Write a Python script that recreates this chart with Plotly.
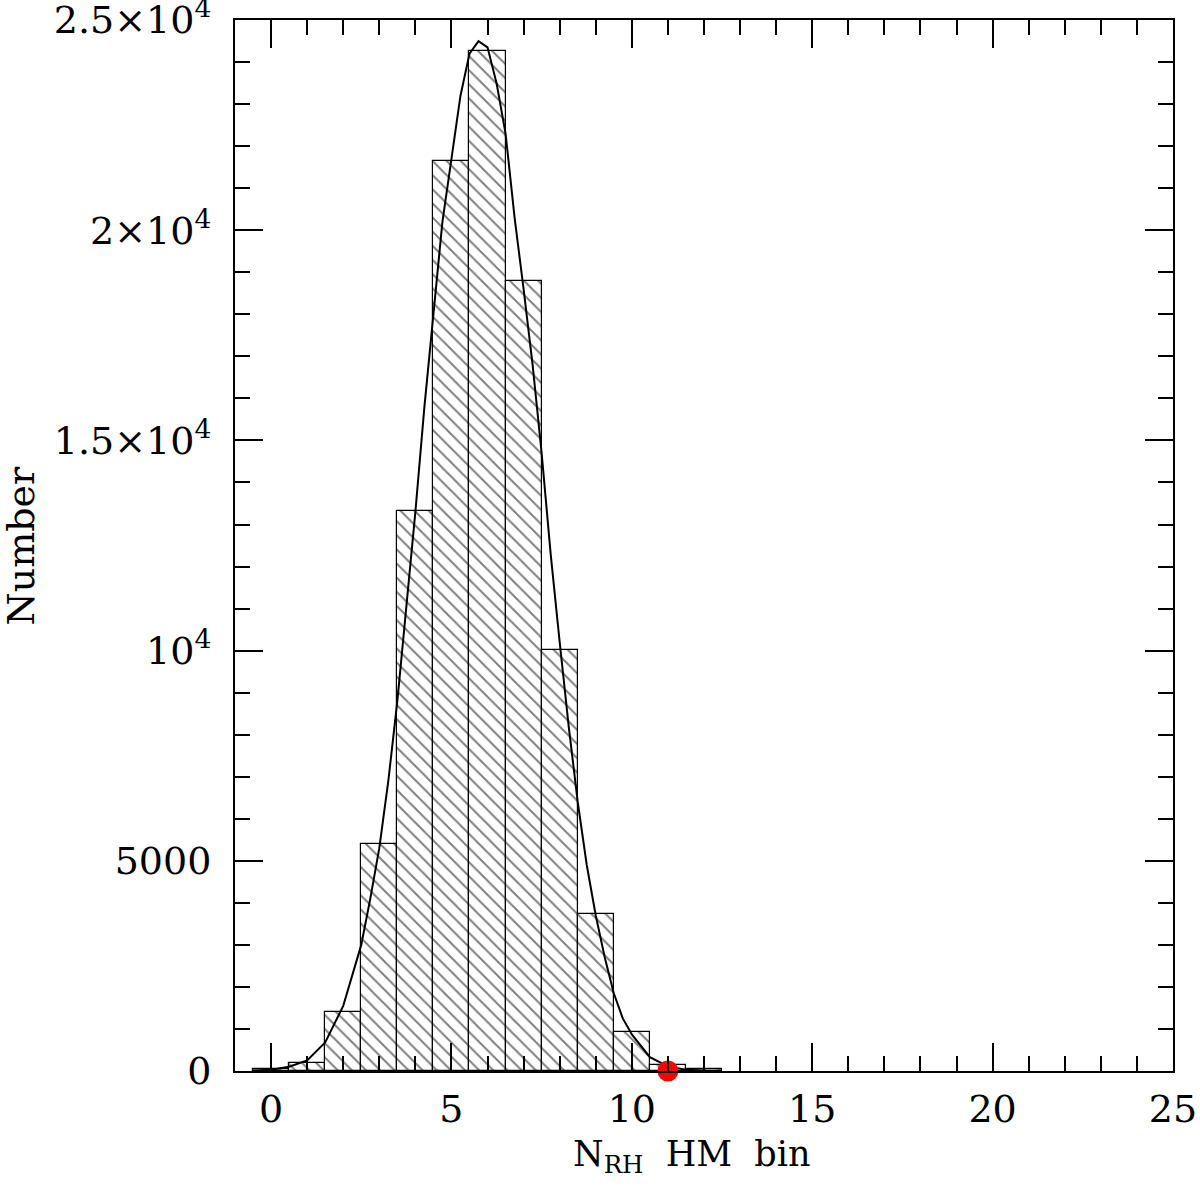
import plotly.graph_objects as go

# histogram of N_RH half-mass bin (bins centred on integers, width 1)
bin_centres = [0, 1, 2, 3, 4, 5, 6, 7, 8, 9, 10, 11, 12]
bin_counts = [50, 200, 1400, 5400, 13330, 21640, 24270, 18800, 10020, 3740, 930, 140, 40]

# fitted curve
curve_x = [-0.5, 0.0, 0.5, 1.0, 1.5, 2.0, 2.5, 2.75, 3.0, 3.25, 3.5, 3.75,
           4.0, 4.25, 4.5, 4.75, 5.0, 5.25, 5.5, 5.75, 6.0, 6.25, 6.5, 6.75,
           7.0, 7.25, 7.5, 7.75, 8.0, 8.25, 8.5, 8.75, 9.0, 9.25, 9.5, 9.75,
           10.0, 10.5, 11.0, 11.5, 12.0, 12.5]
curve_y = [10, 30, 100, 250, 680, 1550, 3000, 4100, 5300, 6900, 8800, 11000,
           13300, 15800, 18000, 20200, 21700, 23200, 24200, 24500, 24350, 23500, 22300, 20300,
           18600, 16800, 14700, 12300, 10200, 8200, 6400, 4900, 3700, 2700, 1850, 1250,
           870, 330, 110, 30, 10, 3]

# observed value
obs_x = [11.0]
obs_y = [0]

x_tick_vals = [0, 5, 10, 15, 20, 25]
x_tick_text = ["0", "5", "10", "15", "20", "25"]
y_tick_vals = [0, 5000, 10000, 15000, 20000, 25000]
y_tick_text = ["0", "5000", "10<sup>4</sup>", "1.5×10<sup>4</sup>",
               "2×10<sup>4</sup>", "2.5×10<sup>4</sup>"]

FONT = "DejaVu Serif"

fig = go.Figure()

fig.add_trace(
    go.Bar(
        x=bin_centres,
        y=bin_counts,
        width=1,
        marker=dict(
            color="white",
            line=dict(color="black", width=1.2),
            pattern=dict(shape="\\", fgcolor="black", bgcolor="white",
                         size=10, solidity=0.2),
        ),
        showlegend=False,
    )
)

fig.add_trace(
    go.Scatter(
        x=curve_x,
        y=curve_y,
        mode="lines",
        line=dict(color="black", width=2),
        showlegend=False,
    )
)

fig.add_trace(
    go.Scatter(
        x=obs_x,
        y=obs_y,
        mode="markers",
        marker=dict(color="red", size=21),
        cliponaxis=False,
        showlegend=False,
    )
)

axis_common = dict(
    showline=True,
    linecolor="black",
    linewidth=2,
    mirror="allticks",
    ticks="inside",
    tickcolor="black",
    tickwidth=1.5,
    ticklen=28,
    showgrid=False,
    zeroline=False,
    automargin=False,
    ticklabeloverflow="allow",
    tickfont=dict(family=FONT, size=38, color="black"),
)

fig.update_xaxes(
    **axis_common,
    range=[-1, 25.001],
    tickvals=x_tick_vals,
    ticktext=x_tick_text,
    ticklabelstandoff=3,
    minor=dict(dtick=1, tick0=0, ticks="inside", ticklen=15, tickwidth=1.5, tickcolor="black"),
)

fig.update_yaxes(
    **axis_common,
    range=[0, 25001],
    tickvals=y_tick_vals,
    ticktext=y_tick_text,
    ticklabelstandoff=14,
    minor=dict(dtick=1000, tick0=0, ticks="inside", ticklen=15, tickwidth=1.5, tickcolor="black"),
)

# axis titles placed as annotations for exact positioning
fig.add_annotation(
    text="N<sub>RH</sub>  HM  bin", xref="paper", yref="paper", x=0.487, y=0,
    yshift=-61, xanchor="center", yanchor="top", showarrow=False,
    font=dict(family=FONT, size=35, color="black"),
)
fig.add_annotation(
    text="Number", xref="paper", yref="paper", x=0, y=0.5, xshift=-215,
    xanchor="center", yanchor="middle", textangle=-90, showarrow=False,
    font=dict(family=FONT, size=38, color="black"),
)

fig.update_layout(
    width=1200,
    height=1194,
    margin=dict(l=235, r=27, t=20, b=123),
    plot_bgcolor="white",
    paper_bgcolor="white",
    bargap=0,
)

# drop the default page margin so the figure sits at the window corner
fig.write_html(
    "out.html",
    config={"displayModeBar": False},
    post_script="document.body.style.margin = '0';",
)
